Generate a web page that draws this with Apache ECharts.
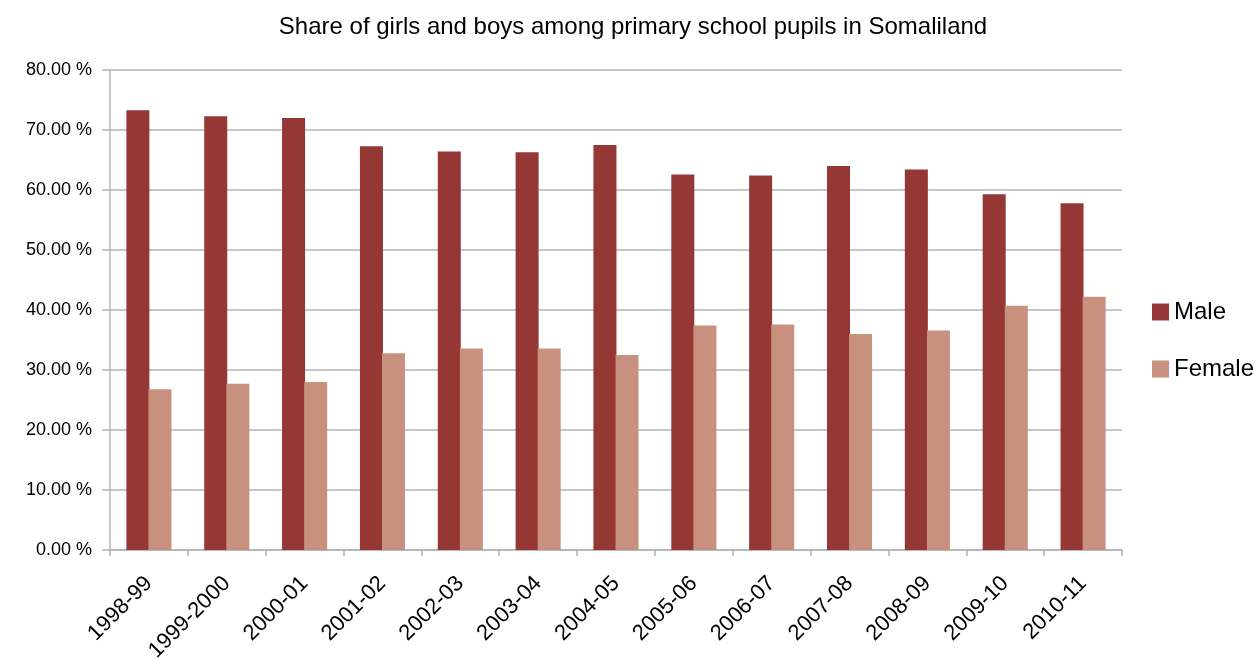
<!DOCTYPE html>
<html>
<head>
<meta charset="utf-8">
<script src="https://cdn.jsdelivr.net/npm/echarts@6/dist/echarts.min.js"></script>
<style>html,body{margin:0;padding:0;background:#fff;}#c{width:1255px;height:660px;}</style>
</head>
<body>
<div id="c"></div>
<script>
const categories = ['1998-99','1999-2000','2000-01','2001-02','2002-03','2003-04','2004-05','2005-06','2006-07','2007-08','2008-09','2009-10','2010-11'];
const maleValues = [73.3, 72.3, 72.0, 67.3, 66.4, 66.3, 67.5, 62.6, 62.4, 64.0, 63.4, 59.3, 57.8];
const femaleValues = [26.8, 27.7, 28.0, 32.8, 33.6, 33.6, 32.5, 37.4, 37.6, 36.0, 36.6, 40.7, 42.2];
const yTicks = [0, 10, 20, 30, 40, 50, 60, 70, 80];

const font = 'Liberation Sans, Arial, sans-serif';
const chart = echarts.init(document.getElementById('c'));
chart.setOption({
  animation: false,
  title: {
    text: 'Share of girls and boys among primary school pupils in Somaliland',
    left: 628, top: 10, textAlign: 'center',
    textStyle: { fontFamily: font, fontSize: 24, fontWeight: 'normal', color: '#000' }
  },
  legend: {
    orient: 'vertical', left: 1147, top: 295, itemGap: 33,
    itemWidth: 17, itemHeight: 17, icon: 'rect',
    textStyle: { fontFamily: font, fontSize: 24, color: '#000', padding: [0,0,0,0] },
    data: ['Male', 'Female']
  },
  grid: { left: 110, right: 133, top: 70, bottom: 110, containLabel: false, outerBoundsMode: 'none' },
  xAxis: {
    type: 'category', data: categories,
    axisLine: { lineStyle: { color: '#b3b3b3', width: 1.5 } },
    axisTick: { show: true, length: 6, lineStyle: { color: '#b3b3b3', width: 1.5 } },
    axisLabel: { rotate: 45, fontFamily: font, fontSize: 22, color: '#000', margin: 30, interval: 0 }
  },
  yAxis: {
    type: 'value', min: 0, max: 80, interval: 10,
    axisLine: { show: true, lineStyle: { color: '#b3b3b3', width: 1.5 } },
    axisTick: { show: true, length: 8, lineStyle: { color: '#b3b3b3', width: 1.5 } },
    splitLine: { lineStyle: { color: '#b3b3b3', width: 1.5 } },
    axisLabel: { fontFamily: font, fontSize: 18, color: '#000', margin: 18,
      formatter: v => yTicks.includes(v) ? v.toFixed(2) + ' %' : '' }
  },
  series: [
    { name: 'Male', type: 'bar', data: maleValues, barWidth: 23, barGap: '-4%',
      itemStyle: { color: '#953735' } },
    { name: 'Female', type: 'bar', data: femaleValues, barWidth: 23,
      itemStyle: { color: '#c8917f' } }
  ]
});
</script>
</body>
</html>
